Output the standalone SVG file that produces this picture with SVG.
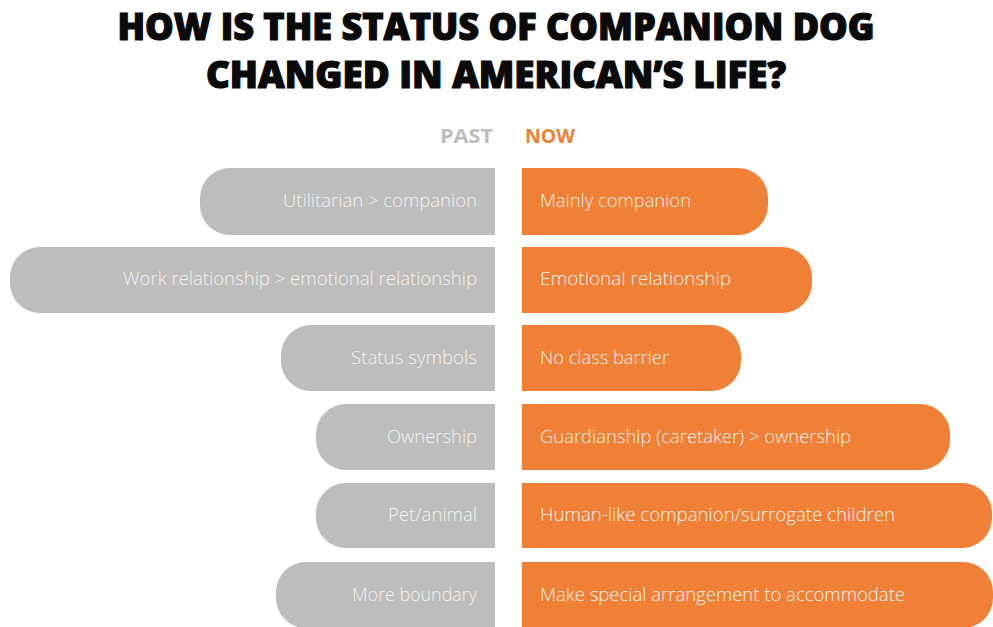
<svg xmlns="http://www.w3.org/2000/svg" width="993" height="627" viewBox="0 0 993 627">
  <style>
    .title { font-family: "Open Sans", "Liberation Sans", sans-serif; font-weight: 800; font-size: 37px; fill: #0a0a0a; stroke: #0a0a0a; stroke-width: 1.2px; }
    .head { font-family: "Open Sans", "Liberation Sans", sans-serif; font-weight: 700; font-size: 19px; }
    .past { fill: #bdbdbd; }
    .now { fill: #f08035; }
    .lbl { font-family: "Open Sans", "Liberation Sans", sans-serif; font-weight: 300; font-size: 18px; fill: #f7f2ee; }
    .lbl-past { text-anchor: end; }
  </style>
  <rect width="993" height="627" fill="#ffffff"/>

  <!-- heading -->
  <g id="title">
    <text class="title" x="496" y="40" text-anchor="middle" textLength="757" lengthAdjust="spacingAndGlyphs">HOW IS THE STATUS OF COMPANION DOG</text>
    <text class="title" x="496" y="88" text-anchor="middle" textLength="580" lengthAdjust="spacingAndGlyphs">CHANGED IN AMERICAN’S LIFE?</text>
  </g>

  <g id="column-heads">
    <text class="head past" x="493" y="143" text-anchor="end" textLength="53" lengthAdjust="spacingAndGlyphs">PAST</text>
    <text class="head now" x="525" y="143" textLength="50" lengthAdjust="spacingAndGlyphs">NOW</text>
  </g>

  <!-- row 1 -->
  <g id="past-1">
    <path class="past" d="M495,168 H230 A30,30 0 0 0 200,198 V205 A30,30 0 0 0 230,235 H495 Z"/>
    <text class="lbl lbl-past" x="477" y="207" textLength="194" lengthAdjust="spacingAndGlyphs">Utilitarian &gt; companion</text>
  </g>
  <g id="now-1">
    <path class="now" d="M522,168 H738 A30,30 0 0 1 768,198 V205 A30,30 0 0 1 738,235 H522 Z"/>
    <text class="lbl" x="540" y="207" textLength="151" lengthAdjust="spacingAndGlyphs">Mainly companion</text>
  </g>

  <!-- row 2 -->
  <g id="past-2">
    <path class="past" d="M495,247 H40 A30,30 0 0 0 10,277 V283 A30,30 0 0 0 40,313 H495 Z"/>
    <text class="lbl lbl-past" x="477" y="285" textLength="354" lengthAdjust="spacingAndGlyphs">Work relationship &gt; emotional relationship</text>
  </g>
  <g id="now-2">
    <path class="now" d="M522,247 H782 A30,30 0 0 1 812,277 V283 A30,30 0 0 1 782,313 H522 Z"/>
    <text class="lbl" x="540" y="285" textLength="191" lengthAdjust="spacingAndGlyphs">Emotional relationship</text>
  </g>

  <!-- row 3 -->
  <g id="past-3">
    <path class="past" d="M495,325 H311 A30,30 0 0 0 281,355 V361 A30,30 0 0 0 311,391 H495 Z"/>
    <text class="lbl lbl-past" x="477" y="364" textLength="126" lengthAdjust="spacingAndGlyphs">Status symbols</text>
  </g>
  <g id="now-3">
    <path class="now" d="M522,325 H711 A30,30 0 0 1 741,355 V361 A30,30 0 0 1 711,391 H522 Z"/>
    <text class="lbl" x="540" y="364" textLength="129" lengthAdjust="spacingAndGlyphs">No class barrier</text>
  </g>

  <!-- row 4 -->
  <g id="past-4">
    <path class="past" d="M495,404 H346 A30,30 0 0 0 316,434 V440 A30,30 0 0 0 346,470 H495 Z"/>
    <text class="lbl lbl-past" x="477" y="443" textLength="90" lengthAdjust="spacingAndGlyphs">Ownership</text>
  </g>
  <g id="now-4">
    <path class="now" d="M522,404 H920 A30,30 0 0 1 950,434 V440 A30,30 0 0 1 920,470 H522 Z"/>
    <text class="lbl" x="540" y="443" textLength="311" lengthAdjust="spacingAndGlyphs">Guardianship (caretaker) &gt; ownership</text>
  </g>

  <!-- row 5 -->
  <g id="past-5">
    <path class="past" d="M495,483 H346 A30,30 0 0 0 316,513 V518 A30,30 0 0 0 346,548 H495 Z"/>
    <text class="lbl lbl-past" x="477" y="521" textLength="89" lengthAdjust="spacingAndGlyphs">Pet/animal</text>
  </g>
  <g id="now-5">
    <path class="now" d="M522,483 H962 A30,30 0 0 1 992,513 V518 A30,30 0 0 1 962,548 H522 Z"/>
    <text class="lbl" x="540" y="521" textLength="355" lengthAdjust="spacingAndGlyphs">Human-like companion/surrogate children</text>
  </g>

  <!-- row 6 -->
  <g id="past-6">
    <path class="past" d="M495,562 H306 A30,30 0 0 0 276,592 V598 A30,30 0 0 0 306,628 H495 Z"/>
    <text class="lbl lbl-past" x="477" y="601" textLength="125" lengthAdjust="spacingAndGlyphs">More boundary</text>
  </g>
  <g id="now-6">
    <path class="now" d="M522,562 H963 A30,30 0 0 1 993,592 V598 A30,30 0 0 1 963,628 H522 Z"/>
    <text class="lbl" x="540" y="601" textLength="365" lengthAdjust="spacingAndGlyphs">Make special arrangement to accommodate</text>
  </g>
</svg>
